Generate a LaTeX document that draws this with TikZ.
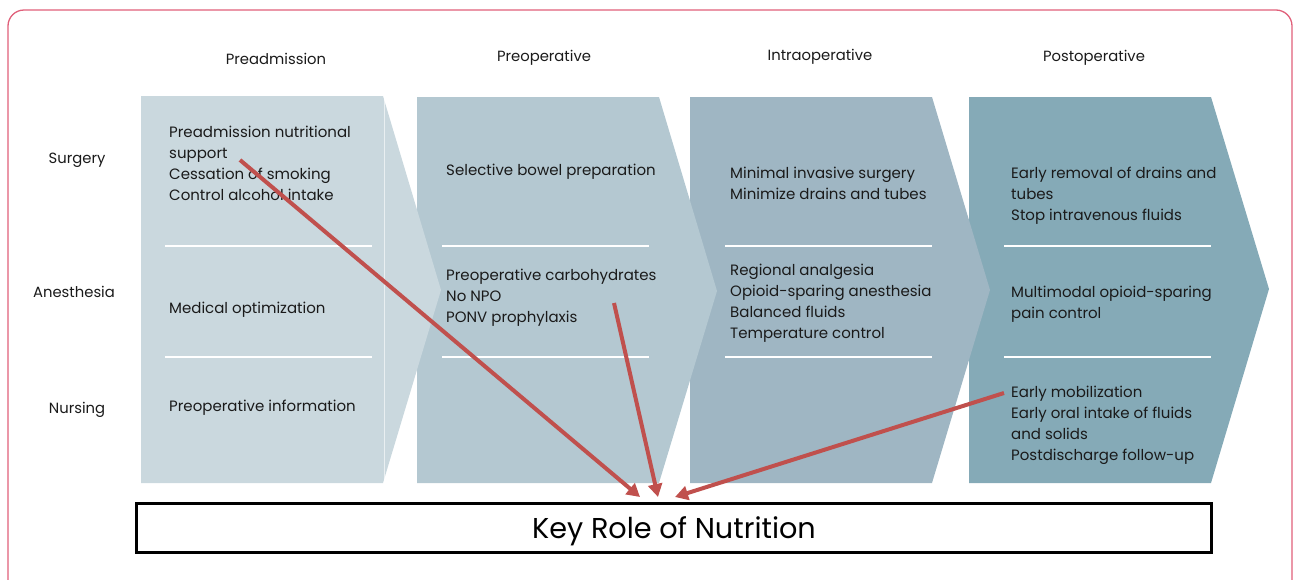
\documentclass[tikz,border=0pt]{standalone}
\usepackage{fontspec}
\setmainfont{Poppins}
\usetikzlibrary{arrows.meta}
\definecolor{cA}{HTML}{CAD8DE}
\definecolor{cB}{HTML}{B4C8D1}
\definecolor{cC}{HTML}{9FB6C3}
\definecolor{cD}{HTML}{85AAB7}
\definecolor{frame}{HTML}{E0607A}
\definecolor{arr}{HTML}{C0504D}
\definecolor{txt}{HTML}{1A1A1A}
\newcommand\mylines[1]{\begin{tabular}[t]{@{}l@{}}#1\end{tabular}}
\tikzset{
  body/.style={font=\fontsize{15}{21}\selectfont, text=txt, anchor=base west, inner sep=0pt},
  head/.style={font=\fontsize{14.8}{16}\selectfont, text=txt, anchor=base, inner sep=0pt},
  sep/.style={white, line width=2pt},
  redarrow/.style={arr, line width=4pt, -{Triangle[length=13pt,width=14pt]}}
}
\begin{document}
\begin{tikzpicture}[x=1pt,y=-1pt]
\useasboundingbox (0,0) rectangle (1295,579);
\begin{scope}
\clip (0,0) rectangle (1295,579);
\draw[frame, line width=1.3pt, rounded corners=16pt] (8,10) rectangle (1292,610);
\end{scope}
% chevrons (right to left so earlier tips overlap)
\fill[cD] (969,97) -- (1211,97) -- (1269,289) -- (1211,483) -- (969,483) -- cycle;
\fill[cC] (690,97) -- (932,97) -- (990,290) -- (932,483) -- (690,483) -- cycle;
\fill[cB] (417,97) -- (659,97) -- (717,291) -- (659,483) -- (417,483) -- cycle;
\fill[cA] (141,96) -- (383,96) -- (441,290) -- (383,483) -- (141,483) -- cycle;
\draw[white, opacity=0.6, line width=0.8pt] (384,96) -- (384,483);
% separators
\foreach \xa/\xb in {165/372, 442/649, 725/932, 1004/1211}{
  \draw[sep] (\xa,246) -- (\xb,246);
  \draw[sep] (\xa,357) -- (\xb,357);
}
% headers
\node[head] (hPre) at (276,64) {Preadmission};
\node[head] (hPreop) at (544,61) {Preoperative};
\node[head] (hIntra) at (820,60) {Intraoperative};
\node[head] (hPost) at (1094,61) {Postoperative};
\node[head] (rSurg) at (77,163) {Surgery};
\node[head] (rAnes) at (74,297) {Anesthesia};
\node[head] (rNurs) at (77,413) {Nursing};
% column 1
\node[body] (a1) at (169,137) {\mylines{Preadmission nutritional\\support\\Cessation of smoking\\Control alcohol intake}};
\node[body] (a2) at (169,313) {Medical optimization};
\node[body] (a3) at (169,411) {Preoperative information};
% column 2
\node[body] (b1) at (446,175) {Selective bowel preparation};
\node[body] (b2) at (446,280) {\mylines{Preoperative carbohydrates\\No NPO\\PONV prophylaxis}};
% column 3
\node[body] (c1) at (730,178) {\mylines{Minimal invasive surgery\\Minimize drains and tubes}};
\node[body] (c2) at (730,275) {\mylines{Regional analgesia\\Opioid-sparing anesthesia\\Balanced fluids\\Temperature control}};
% column 4
\node[body] (d1) at (1011,178) {\mylines{Early removal of drains and\\tubes\\Stop intravenous fluids}};
\node[body] (d2) at (1011,297) {\mylines{Multimodal opioid-sparing\\pain control}};
\node[body] (d3) at (1011,397) {\mylines{Early mobilization\\Early oral intake of fluids\\and solids\\Postdischarge follow-up}};
% key box
\node[draw=black, line width=2.6pt, minimum width=1075pt, minimum height=49pt, inner sep=0pt,
      text height=20pt, text depth=0pt,
      font=\fontsize{28.7}{32}\selectfont] (key) at (674,528) {Key Role of Nutrition};
% arrows
\coordinate (s1) at (240,160);
\coordinate (s2) at (614,303);
\coordinate (s3) at (1004,393);
\coordinate (e1) at (640,497);
\coordinate (e2) at (658,497);
\coordinate (e3) at (675,497);
\draw[redarrow] (s1) -- (e1);
\draw[redarrow] (s2) -- (e2);
\draw[redarrow] (s3) -- (e3);
\end{tikzpicture}
\end{document}
